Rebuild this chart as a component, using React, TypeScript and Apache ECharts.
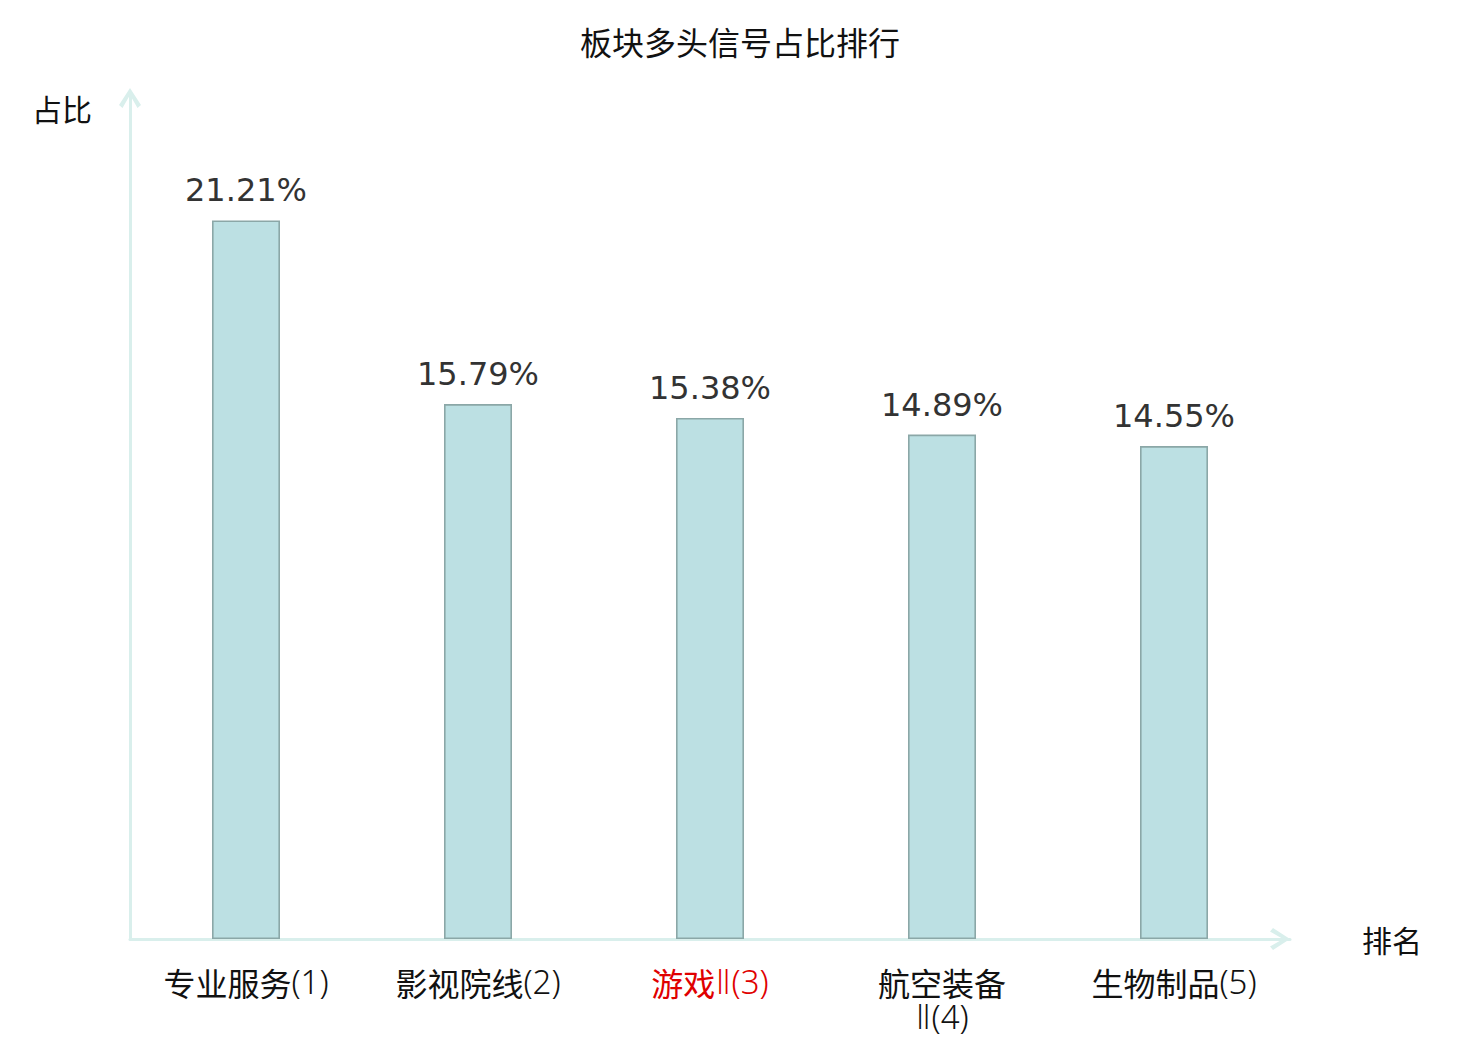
import React, { useEffect, useRef } from "react";
import * as echarts from "echarts";

const titleText = "板块多头信号占比排行";
const categories = ["专业服务(1)", "影视院线(2)", "游戏Ⅱ(3)", "航空装备Ⅱ(4)", "生物制品(5)"];
const values = [21.21, 15.79, 15.38, 14.89, 14.55];
const highlightIndex = 2;
const xName = "排名";
const yName = "占比";

const chevron = "path://M0,17 L11,0 L22,17 L18.5,20 L11,7 L3.5,20 Z";

export default function App() {
  const ref = useRef<HTMLDivElement>(null);
  useEffect(() => {
    if (!ref.current) return;
    const chart = echarts.init(ref.current, null, { renderer: "svg" });
    const cjk = "'Noto Sans CJK SC', sans-serif";
    const latin = "'Noto Sans', 'DejaVu Sans', sans-serif";
    const mkRich = (color: string) => ({
      c: { fontSize: 32, fontFamily: cjk, color, lineHeight: 35, verticalAlign: "middle" },
      n: { fontSize: 33, fontFamily: latin, fontWeight: 300, color, lineHeight: 35, verticalAlign: "middle" },
    });
    const richBlack = mkRich("#111");
    const richRed = mkRich("#e00000");
    chart.setOption({
      animation: false,
      backgroundColor: "#ffffff",
      title: {
        text: titleText,
        left: "center",
        top: 20,
        textStyle: { fontSize: 32, fontWeight: "normal", color: "#111", fontFamily: cjk },
      },
      grid: { left: 130, right: 190, top: 92, bottom: 101, containLabel: false },
      xAxis: {
        type: "category",
        data: categories,
        name: xName,
        nameLocation: "end",
        nameGap: 72,
        nameTextStyle: { fontSize: 30, color: "#111", fontFamily: cjk },
        axisLine: {
          show: true,
          symbol: ["none", chevron],
          symbolSize: [22, 20],
          symbolOffset: [0, -10],
          lineStyle: { color: "#d9efec", width: 3 },
        },
        axisTick: { show: false },
        axisLabel: {
          margin: 25,
          interval: 0,
          lineHeight: 35,
          formatter: (v: string, i: number) => {
            const key = i === highlightIndex ? "r" : "b";
            const m = v.match(/^([\u4e00-\u9fff]+)(.*)$/);
            const head = m ? m[1] : v;
            const tail = m ? m[2] : "";
            const sep = head.length + tail.length > 7 ? "\n" : "";
            return `{${key}c|${head}}${sep}{${key}n|${tail}}`;
          },
          rich: {
            bc: richBlack.c,
            bn: richBlack.n,
            rc: richRed.c,
            rn: richRed.n,
          },
        },
      },
      yAxis: {
        type: "value",
        min: 0,
        max: 25,
        name: yName,
        nameLocation: "end",
        nameGap: -16,
        nameTextStyle: {
          fontSize: 30,
          color: "#111",
          fontFamily: cjk,
          align: "right",
          verticalAlign: "middle",
          padding: [0, 38, 0, 0],
        },
        axisLine: {
          show: true,
          symbol: ["none", chevron],
          symbolSize: [22, 20],
          symbolOffset: [0, -6],
          lineStyle: { color: "#d9efec", width: 3 },
        },
        axisTick: { show: false },
        axisLabel: { show: false },
        splitLine: { show: false },
      },
      series: [
        {
          type: "bar",
          data: values,
          barWidth: 68,
          itemStyle: { color: "#bce0e3", borderColor: "#8ba7a7", borderWidth: 1.6 },
          label: {
            show: true,
            position: "top",
            distance: 14,
            fontSize: 32,
            color: "#333",
            fontFamily: "'DejaVu Sans', sans-serif",
            formatter: (p: any) => p.value.toFixed(2) + "%",
          },
        },
      ],
    });
    return () => chart.dispose();
  }, []);
  return <div ref={ref} style={{ position: "absolute", left: 0, top: 0, width: 1480, height: 1040 }} />;
}
